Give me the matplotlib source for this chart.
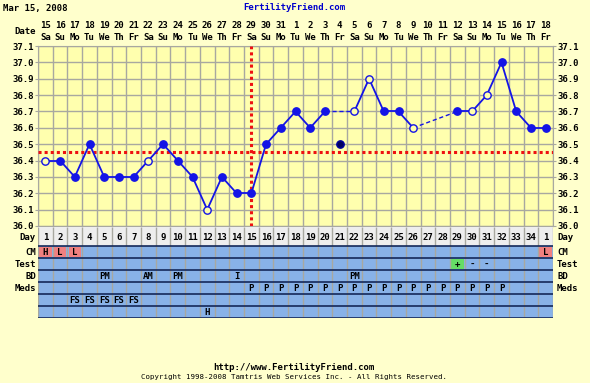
import numpy as np
import matplotlib
matplotlib.use('Agg')
import matplotlib.pyplot as plt
from matplotlib.patches import Rectangle
from matplotlib.transforms import blended_transform_factory

# chart data
cycle_days = list(range(1, 35)) + [1]
dates = [15, 16, 17, 18, 19, 20, 21, 22, 23, 24, 25, 26, 27, 28, 29, 30, 31,
         1, 2, 3, 4, 5, 6, 7, 8, 9, 10, 11, 12, 13, 14, 15, 16, 17, 18]
weekdays = ["Sa", "Su", "Mo", "Tu", "We", "Th", "Fr"] * 5
temps = [36.4, 36.4, 36.3, 36.5, 36.3, 36.3, 36.3, 36.4, 36.5, 36.4, 36.3, 36.1,
         36.3, 36.2, 36.2, 36.5, 36.6, 36.7, 36.6, 36.7, 36.5, 36.7, 36.9, 36.7,
         36.7, 36.6, None, None, 36.7, 36.7, 36.8, 37.0, 36.7, 36.6, 36.6]
open_days = [1, 8, 12, 22, 23, 26, 30, 31]   # hollow markers
discarded_days = [21]                         # not connected
coverline = 36.45
ovulation_day = 15

cm = {1: "H", 2: "L", 3: "L", 35: "L"}
test = {29: "+", 30: "-", 31: "-"}
bd = {5: "PM", 8: "AM", 10: "PM", 14: "I", 22: "PM"}
meds = {d: "P" for d in range(15, 33)}
row5 = {3: "FS", 4: "FS", 5: "FS", 6: "FS", 7: "FS"}
row6 = {12: "H"}

BG = '#FFFFCC'
PLOT_BG = '#FFFFAE'
GRID = '#A8A8A0'
BLUE = '#1414E6'
ROW_BLUE = '#88B2E8'
NAVY = '#14285A'
FONT = dict(family='DejaVu Sans Mono', weight='bold', size=6.5)

W, H = 590, 383
fig = plt.figure(figsize=(W / 100, H / 100), dpi=100, facecolor=BG)


def fx(px):
    return px / W


def fy(py):
    return 1 - py / H


# temperature chart
ax = fig.add_axes([fx(38), fy(226), fx(553) - fx(38), fy(46) - fy(226)])
ax.set_facecolor(PLOT_BG)
ax.set_xlim(0.5, 35.5)
ax.set_ylim(36.0, 37.1)
ax.set_xticks(np.arange(0.5, 36, 1))
yt = np.round(np.arange(36.0, 37.15, 0.1), 1)
ax.set_yticks(yt)
ax.set_yticklabels([f"{v:.1f}" for v in yt], **FONT)
ax.tick_params(axis='x', length=0, labelbottom=False)
ax.tick_params(axis='y', length=2, color=GRID, pad=1, labelleft=True, labelright=True, right=True)
ax.grid(True, color=GRID, lw=1)
for s in ax.spines.values():
    s.set_color(GRID)

ax.axhline(coverline, color='#EE1111', lw=2.2, ls=(0, (1, 1)), zorder=3)
ax.axvline(ovulation_day, color='#EE1111', lw=2.2, ls=(0, (1, 1)), zorder=3)

# connecting lines
pts = [(d, t) for d, t in zip(range(1, 36), temps) if t is not None and d not in discarded_days]
for (d0, t0), (d1, t1) in zip(pts[:-1], pts[1:]):
    if d1 - d0 == 1:
        ax.plot([d0, d1], [t0, t1], color=BLUE, lw=1.3, zorder=4)
    else:
        ax.plot([d0, d1], [t0, t1], color=BLUE, lw=1, ls=(0, (3, 2)), zorder=4)

for d, t in zip(range(1, 36), temps):
    if t is None:
        continue
    if d in open_days:
        ax.plot(d, t, 'o', ms=5.3, mfc=PLOT_BG, mec=BLUE, mew=1, zorder=5)
    elif d in discarded_days:
        ax.plot(d, t, 'o', ms=5.3, mfc='#000060', mec='#0000A0', mew=1, zorder=5)
    else:
        ax.plot(d, t, 'o', ms=5.3, mfc=BLUE, mec=BLUE, zorder=5)

# header
tr = blended_transform_factory(ax.transData, fig.transFigure)
for i, (d, w) in enumerate(zip(dates, weekdays)):
    ax.text(i + 1, fy(26), str(d), transform=tr, ha='center', va='center', **FONT)
    ax.text(i + 1, fy(38), w, transform=tr, ha='center', va='center', **FONT)
fig.text(fx(36), fy(32), "Date", ha='right', va='center', **FONT)
fig.text(fx(3), fy(8), "Mar 15, 2008", ha='left', va='center', **FONT)
fig.text(fx(294), fy(8), "FertilityFriend.com", ha='center', va='center', color='#0000CC', **FONT)

# table of observations
tax = fig.add_axes([fx(38), fy(318), fx(553) - fx(38), fy(227) - fy(318)])
tax.set_xlim(0.5, 35.5)
tax.set_ylim(7.6, 0)
tax.axis('off')
tax.axhspan(0, 1.6, color='#EEEEEE', lw=0)
tax.axhspan(1.6, 7.6, color=ROW_BLUE, lw=0)
tax.vlines(np.arange(0.5, 36, 1), 0, 7.6, color=GRID, lw=1)
tax.hlines(np.arange(1.6, 7.7, 1), 0.5, 35.5, color=NAVY, lw=1.2)

for i, c in enumerate(cycle_days):
    tax.text(i + 1, 0.85, str(c), ha='center', va='center', **FONT)

rows = [cm, test, bd, meds, row5, row6]
for r, row in enumerate(rows):
    yc = 1.6 + r + 0.5
    for d, lab in row.items():
        if row is cm:
            tax.add_patch(Rectangle((d - 0.42, yc - 0.42), 0.84, 0.84, color='#F08080', lw=0))
        if row is test and lab == "+":
            tax.add_patch(Rectangle((d - 0.42, yc - 0.42), 0.84, 0.84, color='#66DD66', lw=0))
        tax.text(d, yc, lab, ha='center', va='center', **FONT)

ytr = blended_transform_factory(fig.transFigure, tax.transData)
left_labels = ["Day", "CM", "Test", "BD", "Meds"]
ycs = [0.85, 2.1, 3.1, 4.1, 5.1]
for lab, yc in zip(left_labels, ycs):
    fig.text(fx(36), yc, lab, transform=ytr, ha='right', va='center', **FONT)
    fig.text(fx(557), yc, lab, transform=ytr, ha='left', va='center', **FONT)

# footer
fig.text(fx(294), fy(367), "http://www.FertilityFriend.com", ha='center', va='center', **FONT)
fig.text(fx(294), fy(377), "Copyright 1998-2008 Tamtris Web Services Inc. - All Rights Reserved.",
         ha='center', va='center', family='DejaVu Sans Mono', size=5.3)

fig.savefig('out.png', dpi=100, facecolor=BG)
